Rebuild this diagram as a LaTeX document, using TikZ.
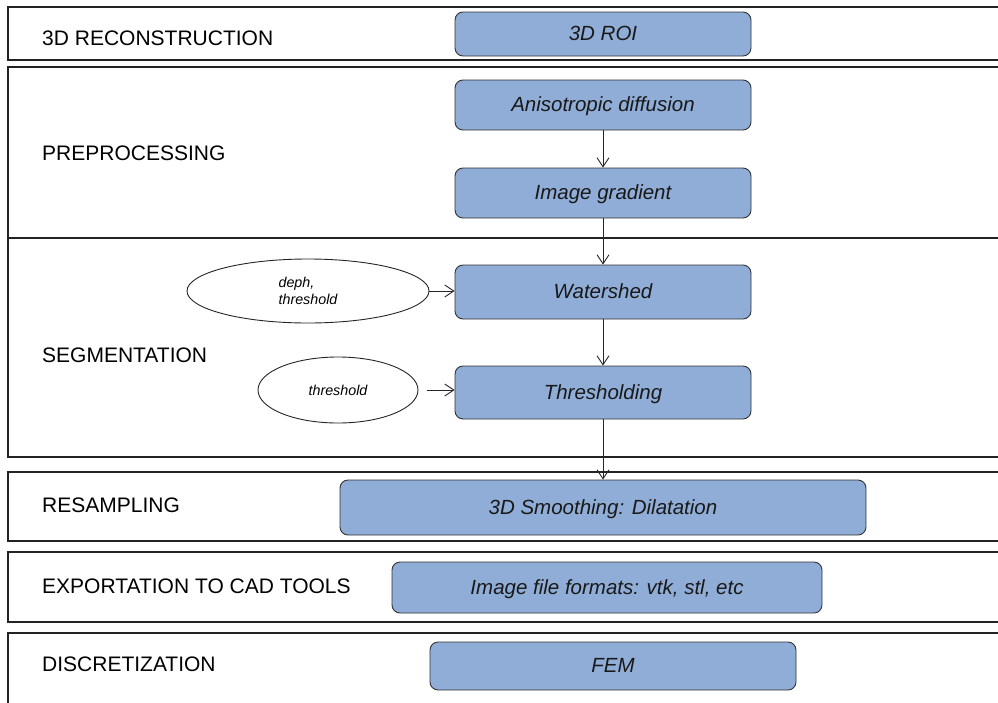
\documentclass[tikz,border=0pt]{standalone}
\usepackage{fontspec}
\setmainfont{Liberation Sans}
\usetikzlibrary{arrows.meta,shapes.geometric}
\definecolor{boxblue}{RGB}{143,173,214}
\definecolor{laneline}{RGB}{35,35,35}

\begin{document}
\begin{tikzpicture}[x=1pt,y=-1pt,
  lane/.style={draw=laneline,line width=1.3pt},
  stage/.style={font=\fontsize{21}{24}\selectfont,anchor=base west,inner sep=0pt},
  stepbox/.style={draw=black!80,line width=0.9pt,fill=boxblue,rounded corners=8pt,
    font=\fontsize{20.5}{24}\selectfont\itshape,text=black!90,
    text height=13.5pt,text depth=0pt,inner sep=0pt},
  param/.style={ellipse,draw=black!85,line width=0.9pt,fill=white,inner sep=0pt,
    font=\fontsize{14.3}{17}\selectfont\itshape,align=left},
  flow/.style={-{Straight Barb[length=9pt,width=12pt]},line width=0.9pt,draw=black!85}
]
\useasboundingbox (0,0) rectangle (998,702);
\clip (0,0) rectangle (998,702);
\fill[white] (0,0) rectangle (998,702);

% swimlanes (open on the right side of the sheet)
\draw[lane] (8,7) rectangle (1010,60);
\draw[lane] (8,67) rectangle (1010,238);
\draw[lane] (8,238) rectangle (1010,457);
\draw[lane] (8,472) rectangle (1010,541);
\draw[lane] (8,552) rectangle (1010,622);
\draw[lane] (1010,633) -- (8,633) -- (8,712);

% stage names
\node[stage] (lbl1) at (42,45) {3D RECONSTRUCTION};
\node[stage] (lbl2) at (42,160.5) {PREPROCESSING};
\node[stage] (lbl3) at (42,362.5) {SEGMENTATION};
\node[stage] (lbl4) at (42,512.5) {RESAMPLING};
\node[stage] (lbl5) at (42,593) {EXPORTATION TO CAD TOOLS};
\node[stage] (lbl6) at (42,671) {DISCRETIZATION};

% processing steps
\node[stepbox,minimum width=296pt,minimum height=44pt] (roi) at (603,34) {3D ROI};
\node[stepbox,minimum width=296pt,minimum height=50pt] (aniso) at (603,105) {Anisotropic diffusion};
\node[stepbox,minimum width=296pt,minimum height=50pt] (grad) at (603,193) {Image gradient};
\node[stepbox,minimum width=296pt,minimum height=54pt] (water) at (603,292) {Watershed};
\node[stepbox,minimum width=296pt,minimum height=53pt] (thresh) at (603,392.5) {Thresholding};
\node[stepbox,minimum width=526pt,minimum height=55pt] (smooth) at (603,507.5) {3D Smoothing: Dilatation};
\node[stepbox,minimum width=430pt,minimum height=51pt] (export) at (607,587.5) {Image file formats: vtk, stl, etc};
\node[stepbox,minimum width=366pt,minimum height=48pt] (fem) at (613,666) {FEM};

% parameters
\node[param,minimum width=242pt,minimum height=64pt] (e1) at (308,291) {deph,\\threshold};
\node[param,minimum width=160pt,minimum height=66pt] (e2) at (338,390) {threshold};

% flow
\draw[flow] (aniso) -- (grad);
\draw[flow] (grad) -- (water);
\draw[flow] (water) -- (thresh);
\draw[flow] (thresh) -- (smooth);
\draw[flow] (e1.east) -- (e1.east -| water.west);
\draw[flow,shorten <=9pt] (e2.east) -- (e2.east -| thresh.west);
\end{tikzpicture}
\end{document}
